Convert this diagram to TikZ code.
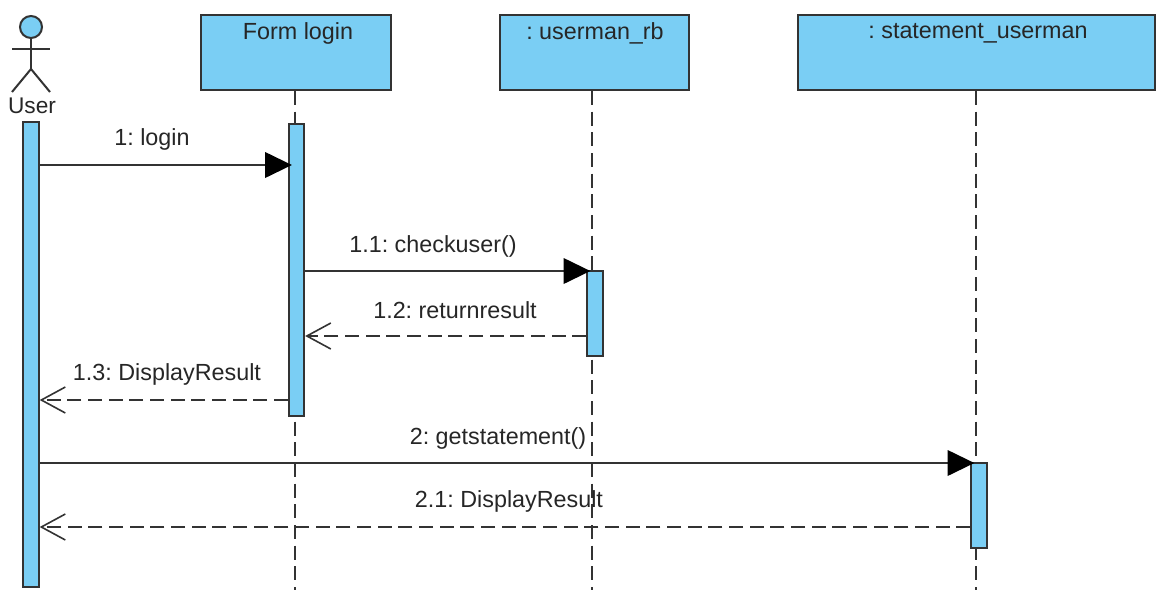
\documentclass[tikz,border=0pt]{standalone}
\usepackage{fontspec}
\setmainfont{Liberation Sans}
\usetikzlibrary{arrows.meta}
\definecolor{mainBlue}{HTML}{7ACEF4}
\definecolor{mainBlack}{gray}{0.2}
\frenchspacing
\begin{document}
\begin{tikzpicture}[x=0.75pt, y=-0.75pt, line width=1.5pt, draw=mainBlack,
    objbox/.style={draw=mainBlack, fill=mainBlue, inner sep=0pt, minimum height=56.25pt},
    bar/.style={draw=mainBlack, fill=mainBlue, inner sep=0pt, minimum width=11.5pt},
    life/.style={draw=mainBlack, dash pattern=on 10.5pt off 5pt},
    call/.style={draw=mainBlack, shorten >=-3pt, -{Triangle[length=20pt, width=19.5pt, color=black, fill=black, line width=0pt]}},
    reply/.style={draw=mainBlack, dash pattern=on 10.5pt off 5pt, -{Straight Barb[length=18pt, width=19.5pt, line width=1.2pt, sep=0pt]}},
    msg/.style={font=\fontsize{17.5pt}{20pt}\selectfont, text=black!85, inner sep=0pt}]
    \useasboundingbox (0,0) rectangle (1168,597);

    % actor
    \node[draw=mainBlack, fill=mainBlue, circle, minimum size=16.5pt, inner sep=0pt] (head) at (31,27) {};
    \coordinate (hip) at (31,69);
    \coordinate (armL) at (12,49);
    \coordinate (armR) at (50,49);
    \coordinate (legL) at (12,92);
    \coordinate (legR) at (50,92);
    \draw (head.south) -- (hip);
    \draw (armL) -- (armR);
    \draw (legL) -- (hip) -- (legR);
    \node[msg, font=\fontsize{17pt}{20pt}\selectfont] (userName) at (32,106) {User};

    % objects
    \node[objbox, minimum width=142.5pt] (formBox) at (296,52.5) {};
    \node[objbox, minimum width=141.75pt] (rbBox) at (594.5,52.5) {};
    \node[objbox, minimum width=267.75pt] (stBox) at (976.5,52.5) {};
    \node[msg] (formName) at (298,33) {Form login};
    \node[msg] (rbName) at (595,33) {: userman\_rb};
    \node[msg] (stName) at (978,33) {: statement\_userman};

    % lifelines
    \coordinate (formEnd) at (295,590);
    \coordinate (rbEnd) at (592,590);
    \coordinate (stEnd) at (976,590);
    \draw[life] (formBox.south -| formEnd) -- (formEnd);
    \draw[life] (rbBox.south -| rbEnd) -- (rbEnd);
    \draw[life] (stBox.south -| stEnd) -- (stEnd);

    % activations
    \node[bar, minimum height=349pt] (userBar) at (31,354.5) {};
    \node[bar, minimum height=219pt] (formBar) at (296.5,270) {};
    \node[bar, minimum height=63.75pt] (rbBar) at (595,313.5) {};
    \node[bar, minimum height=63.75pt] (stBar) at (979,505.5) {};

    % messages
    \draw[call] (userBar.east |- 0,165) -- (formBar.west |- 0,165);
    \draw[call] (formBar.east |- 0,271) -- (rbBar.west |- 0,271);
    \draw[reply] (rbBar.west |- 0,336) -- (formBar.east |- 0,336);
    \draw[reply] (formBar.west |- 0,400) -- (userBar.east |- 0,400);
    \draw[call] (userBar.east |- 0,463) -- (stBar.west |- 0,463);
    \draw[reply] (stBar.west |- 0,527) -- (userBar.east |- 0,527);

    \node[msg] (m1) at (152,139.5) {1: login};
    \node[msg] (m11) at (433,246.5) {1.1: checkuser()};
    \node[msg] (m12) at (455,310) {1.2: returnresult};
    \node[msg] (m13) at (167,374.5) {1.3: DisplayResult};
    \node[msg] (m2) at (498,438.5) {2: getstatement()};
    \node[msg] (m21) at (509,501.5) {2.1: DisplayResult};
\end{tikzpicture}
\end{document}
